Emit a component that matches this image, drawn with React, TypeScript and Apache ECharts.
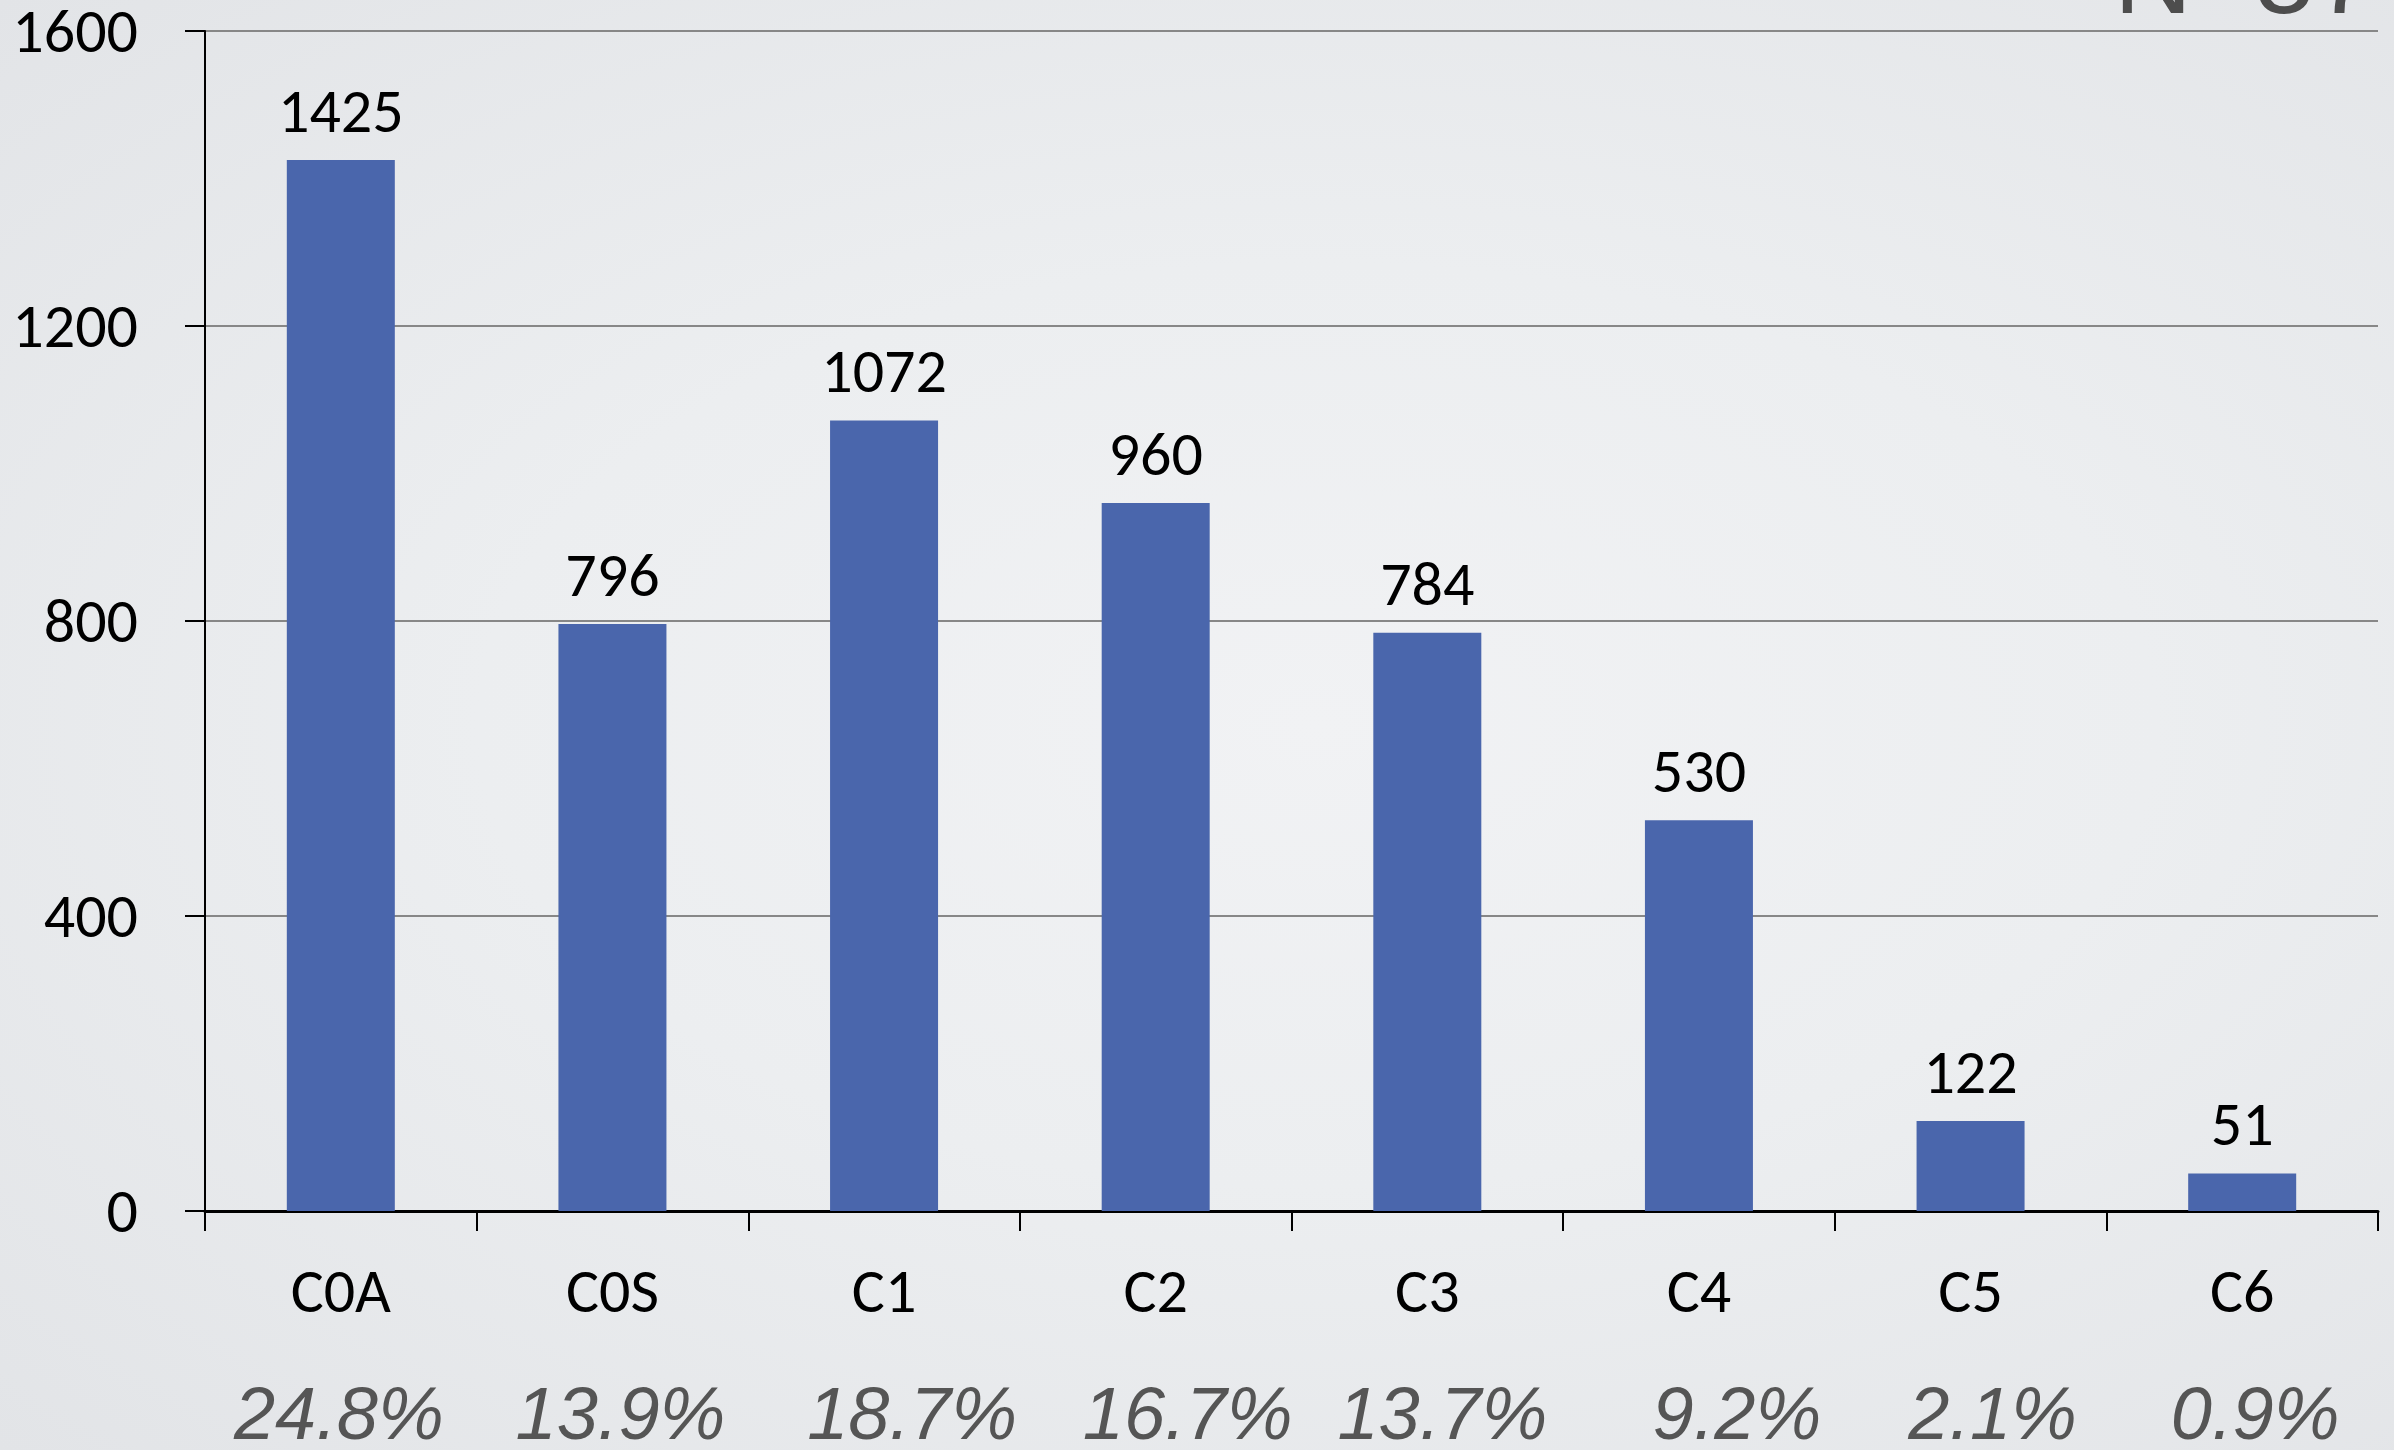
import { useEffect, useRef } from "react";
import * as echarts from "echarts";

// Counts per class
const categories = ["C0A", "C0S", "C1", "C2", "C3", "C4", "C5", "C6"];
const counts = [1425, 796, 1072, 960, 784, 530, 122, 51];
const shares = ["24.8%", "13.9%", "18.7%", "16.7%", "13.7%", "9.2%", "2.1%", "0.9%"];
const yTicks = [0, 400, 800, 1200, 1600];
const totalLabel = "N=5740";

// small horizontal nudge of each share label under its column (px)
const shareNudge = [-2, 8, 28, 32, 15, 38, 22, 13];

const NUM_FONT = 'Carlito, Lato, "Open Sans", sans-serif';
const SHARE_FONT = '"Liberation Sans", Arial, sans-serif';

export default function App() {
  const ref = useRef<HTMLDivElement>(null);

  useEffect(() => {
    document.body.style.margin = "0";
    if (!ref.current) return;
    const chart = echarts.init(ref.current, undefined, { renderer: "svg" });

    const rich: Record<string, any> = {};
    shareNudge.forEach((n, i) => {
      rich["p" + i] = {
        fontFamily: SHARE_FONT,
        fontStyle: "italic",
        fontSize: 74,
        lineHeight: 74,
        color: "#555555",
        padding: n >= 0 ? [0, 0, 0, 2 * n] : [0, -2 * n, 0, 0],
      };
    });

    chart.setOption({
      animation: false,
      backgroundColor: "transparent",
      grid: { left: 205, right: 16, top: 31, bottom: 235, containLabel: false },
      xAxis: [
        {
          type: "category",
          data: categories,
          boundaryGap: true,
          axisLine: { show: true, lineStyle: { color: "#000", width: 3 } },
          axisTick: { show: true, length: 20, lineStyle: { color: "#000", width: 2 } },
          axisLabel: {
            margin: 49,
            fontFamily: NUM_FONT,
            fontSize: 62,
            lineHeight: 62,
            color: "#000",
          },
        },
        {
          type: "category",
          position: "bottom",
          data: shares,
          axisLine: { show: false },
          axisTick: { show: false },
          splitLine: { show: false },
          axisLabel: {
            margin: 165,
            formatter: (v: string, i: number) => `{p${i}|${v}}`,
            rich,
          },
        },
      ],
      yAxis: {
        type: "value",
        min: yTicks[0],
        max: yTicks[yTicks.length - 1],
        interval: yTicks[1] - yTicks[0],
        axisLine: { show: true, lineStyle: { color: "#000", width: 2 } },
        axisTick: { show: true, length: 20, lineStyle: { color: "#000", width: 2 } },
        axisLabel: {
          margin: 67,
          fontFamily: NUM_FONT,
          fontSize: 62,
          color: "#000",
          formatter: (v: number) => String(v),
        },
        splitLine: { show: true, lineStyle: { color: "#878787", width: 2 } },
      },
      series: [
        {
          type: "bar",
          data: counts,
          xAxisIndex: 0,
          barWidth: 108,
          itemStyle: { color: "#4a66ac" },
          label: {
            show: true,
            position: "top",
            distance: 18,
            fontFamily: NUM_FONT,
            fontSize: 62,
            lineHeight: 62,
            color: "#000",
          },
        },
      ],
      graphic: [
        {
          type: "text",
          x: 2114,
          y: -25,
          silent: true,
          style: {
            text: totalLabel,
            font: `normal 108px ${SHARE_FONT}`,
            fill: "#4d4d4d",
            verticalAlign: "middle",
          },
        },
      ],
    });

    return () => chart.dispose();
  }, []);

  return (
    <div
      ref={ref}
      style={{
        width: 2394,
        height: 1450,
        background:
          "radial-gradient(ellipse at 55% 50%, #f1f2f4 0%, #eceef0 45%, #e2e4e7 100%)",
      }}
    />
  );
}
